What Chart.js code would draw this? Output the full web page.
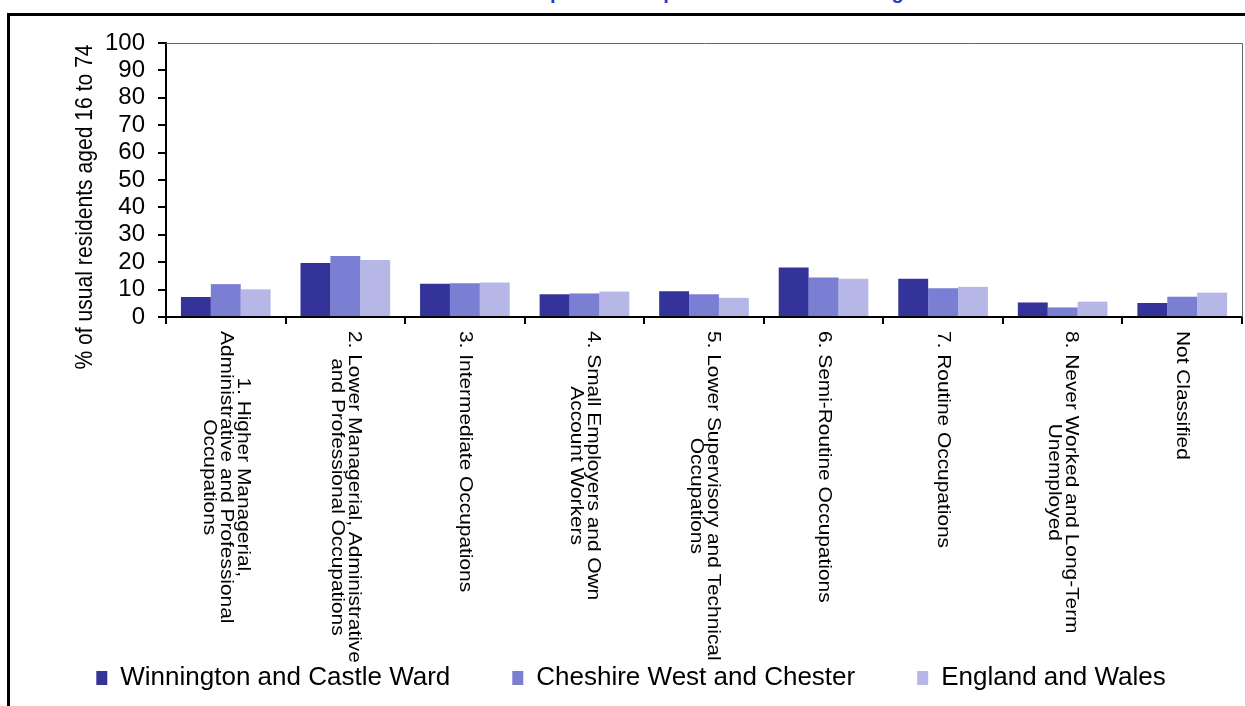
<!DOCTYPE html>
<html>
<head>
<meta charset="utf-8">
<script src="https://cdn.jsdelivr.net/npm/chart.js@4.4.1/dist/chart.umd.min.js"></script>
<style>
    body { margin: 0; background: #fff; overflow: hidden; }
    #frame { position: absolute; left: 7px; top: 13px; width: 1400px; height: 900px; border-left: 3px solid #000; border-top: 3px solid #000; }
    #title { position: absolute; left: 500px; top: -18px; font: bold 20px Arial, "Liberation Sans", sans-serif; line-height: 20px; color: #3333cc; white-space: nowrap; }
    #chart { position: absolute; left: 0; top: 0; }
</style>
</head>
<body>
<div id="title">Occupation Groups of Usual Residents Aged 16 to 74</div>
<div id="frame"></div>
<canvas id="chart" width="1245" height="706"></canvas>
<script>
const categories = [
    ['1. Higher Managerial,', 'Administrative and Professional', 'Occupations'],
    ['2. Lower Managerial, Administrative', 'and Professional Occupations'],
    ['3. Intermediate Occupations'],
    ['4. Small Employers and Own', 'Account Workers'],
    ['5. Lower Supervisory and Technical', 'Occupations'],
    ['6. Semi-Routine Occupations'],
    ['7. Routine Occupations'],
    ['8. Never Worked and Long-Term', 'Unemployed'],
    ['Not Classified']
];
const seriesNames = ['Winnington and Castle Ward', 'Cheshire West and Chester', 'England and Wales'];
const wardValues = [7.3, 19.7, 12.1, 8.3, 9.4, 18.1, 14.0, 5.3, 5.1];
const cheshireValues = [12.0, 22.3, 12.3, 8.6, 8.3, 14.4, 10.5, 3.5, 7.4];
const englandValues = [10.1, 20.8, 12.6, 9.3, 7.0, 14.0, 11.0, 5.6, 8.9];
const yAxisTitle = '% of usual residents aged 16 to 74';

const colors = ['#333399', '#7b7fd4', '#b6b7e6'];
const FONT = 'Arial, "Liberation Sans", sans-serif';
const PAD_BOTTOM = 5;

// draws the rotated category labels, the y title and the plot border
const extras = {
    id: 'extras',
    afterDraw: function(chart) {
        const ctx = chart.ctx;
        const xs = chart.scales.x;
        const area = chart.chartArea;

        ctx.save();
        ctx.strokeStyle = '#666';
        ctx.lineWidth = 1;
        ctx.beginPath();
        ctx.moveTo(area.left, area.top + 0.5);
        ctx.lineTo(area.right + 0.5, area.top + 0.5);
        ctx.lineTo(area.right + 0.5, area.bottom);
        ctx.stroke();
        ctx.restore();

        // the labels in the picture are a bit stretched along the text
        const stretch = 1.16;
        ctx.save();
        ctx.fillStyle = '#000';
        ctx.font = '18px ' + FONT;
        ctx.textAlign = 'center';
        ctx.textBaseline = 'middle';
        for (let i = 0; i < categories.length; i++) {
            const lines = categories[i];
            const x = xs.getPixelForValue(i);
            let maxW = 0;
            for (let k = 0; k < lines.length; k++) {
                maxW = Math.max(maxW, ctx.measureText(lines[k]).width);
            }
            ctx.save();
            ctx.translate(x, area.bottom + 14);
            ctx.rotate(Math.PI / 2);
            ctx.scale(stretch, 1);
            for (let k = 0; k < lines.length; k++) {
                ctx.fillText(lines[k], maxW / 2, (k - (lines.length - 1) / 2) * 17);
            }
            ctx.restore();
        }
        ctx.restore();

        ctx.save();
        ctx.fillStyle = '#000';
        ctx.font = '24px ' + FONT;
        ctx.textAlign = 'center';
        ctx.textBaseline = 'middle';
        ctx.translate(85, 207);
        ctx.rotate(-Math.PI / 2);
        ctx.scale(0.88, 1);
        ctx.fillText(yAxisTitle, 0, 0);
        ctx.restore();
    }
};

new Chart(document.getElementById('chart'), {
    type: 'bar',
    data: {
        labels: categories.map(function(c) { return c.join(' '); }),
        datasets: [
            { label: seriesNames[0], data: wardValues, backgroundColor: colors[0] },
            { label: seriesNames[1], data: cheshireValues, backgroundColor: colors[1] },
            { label: seriesNames[2], data: englandValues, backgroundColor: colors[2] }
        ]
    },
    options: {
        responsive: false,
        animation: false,
        devicePixelRatio: 1,
        layout: { padding: { left: 20, right: 3, top: 43, bottom: PAD_BOTTOM } },
        datasets: { bar: { categoryPercentage: 0.75, barPercentage: 1.0 } },
        plugins: {
            tooltip: { enabled: false },
            legend: {
                position: 'bottom',
                maxHeight: 112,
                labels: {
                    font: { family: FONT, size: 26 },
                    color: '#000',
                    boxWidth: 11,
                    boxHeight: 14,
                    padding: 62
                }
            }
        },
        scales: {
            x: {
                grid: { offset: true, drawOnChartArea: false, color: '#000', lineWidth: 2, tickLength: 7 },
                border: { color: '#000', width: 2 },
                ticks: { callback: function() { return ''; } },
                afterFit: function(s) {
                    s.height = 706 - PAD_BOTTOM - s.chart.legend.height - 317;
                }
            },
            y: {
                min: 0,
                max: 100,
                ticks: { stepSize: 10, autoSkip: false, font: { family: FONT, size: 24 }, color: '#000', padding: 13 },
                grid: { drawOnChartArea: false, color: '#000', lineWidth: 2, tickLength: 8 },
                border: { color: '#000', width: 2 },
                afterFit: function(s) { s.width = 146; }
            }
        }
    },
    plugins: [extras]
});
</script>
</body>
</html>
